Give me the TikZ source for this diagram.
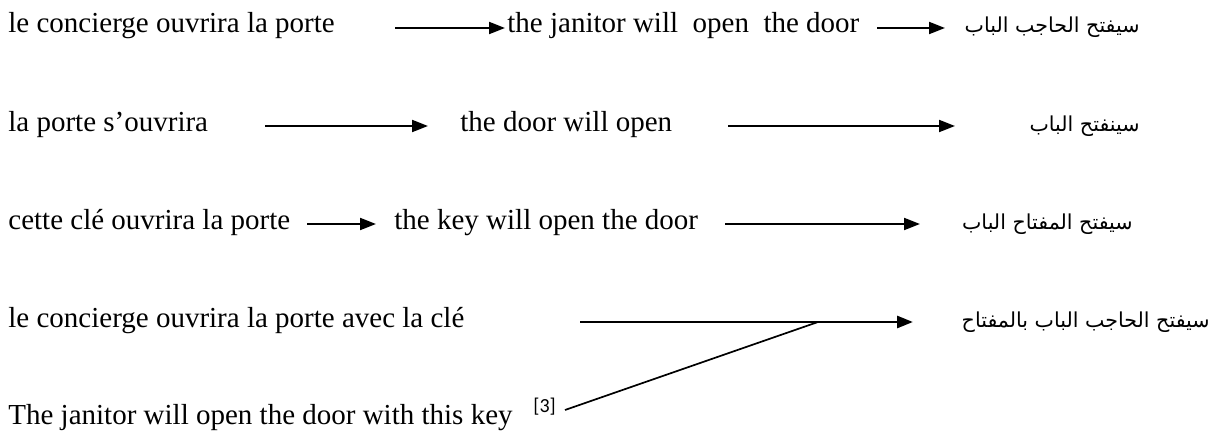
\documentclass[tikz,border=0pt]{standalone}
\usepackage{fontspec}
\setmainfont{Liberation Serif}
\newfontfamily\arabicfont[Script=Arabic]{DejaVu Sans}
\newfontfamily\notefont{Carlito}
\TeXXeTstate=1
\usetikzlibrary{arrows.meta}

\begin{document}
\begin{tikzpicture}[x=0.5pt,y=-0.5pt,
  txt/.style={anchor=base west,inner sep=0pt,font=\fontsize{14.5}{17}\selectfont},
  artxt/.style={anchor=base east,inner sep=0pt,font=\arabicfont\fontsize{10.3}{13}\selectfont},
  note/.style={anchor=base west,inner sep=0pt,font=\notefont\fontsize{10}{12}\selectfont},
  link/.style={line width=1pt,-{Triangle[length=8pt,width=6pt]}},
  biglink/.style={line width=1.4pt,-{Triangle[length=8pt,width=6pt]}},
]
\useasboundingbox (0,0) rectangle (1217,438);

% row 1
\node[txt] (fr1) at (8,33) {le concierge ouvrira la porte};
\node[txt] (en1) at (507,33) {the janitor will~~open~~the door};
\node[artxt] (ar1) at (1140,33) {\beginR سيفتح الحاجب الباب\endR};
\coordinate (a1s) at (395,28);  \coordinate (a1e) at (505,28);
\coordinate (b1s) at (877,28);  \coordinate (b1e) at (945,28);
\draw[link] (a1s) -- (a1e);
\draw[link] (b1s) -- (b1e);

% row 2
\node[txt] (fr2) at (8,132) {la porte s’ouvrira};
\node[txt] (en2) at (460,132) {the door will open};
\node[artxt] (ar2) at (1140,132) {\beginR سينفتح الباب\endR};
\coordinate (a2s) at (265,126);  \coordinate (a2e) at (428,126);
\coordinate (b2s) at (728,126);  \coordinate (b2e) at (955,126);
\draw[link] (a2s) -- (a2e);
\draw[link] (b2s) -- (b2e);

% row 3
\node[txt] (fr3) at (8,230) {cette clé ouvrira la porte};
\node[txt] (en3) at (394,230) {the key will open the door};
\node[artxt] (ar3) at (1133,230) {\beginR سيفتح المفتاح الباب\endR};
\coordinate (a3s) at (307,224);  \coordinate (a3e) at (376,224);
\coordinate (b3s) at (725,224);  \coordinate (b3e) at (920,224);
\draw[link] (a3s) -- (a3e);
\draw[link] (b3s) -- (b3e);

% row 4
\node[txt] (fr4) at (8,328) {le concierge ouvrira la porte avec la clé};
\node[artxt] (ar4) at (1210,328) {\beginR سيفتح الحاجب الباب بالمفتاح\endR};
\coordinate (a4s) at (580,322);  \coordinate (a4e) at (913,322);
\coordinate (join) at (818,322);
\draw[biglink] (a4s) -- (a4e);

% row 5
\node[txt] (en5) at (8,425) {The janitor will open the door with this key};
\node[note] (ref) at (533,413) {[3]};
\coordinate (refend) at (565,410);
\draw[line width=0.85pt] (refend) -- (join);
\end{tikzpicture}
\end{document}
